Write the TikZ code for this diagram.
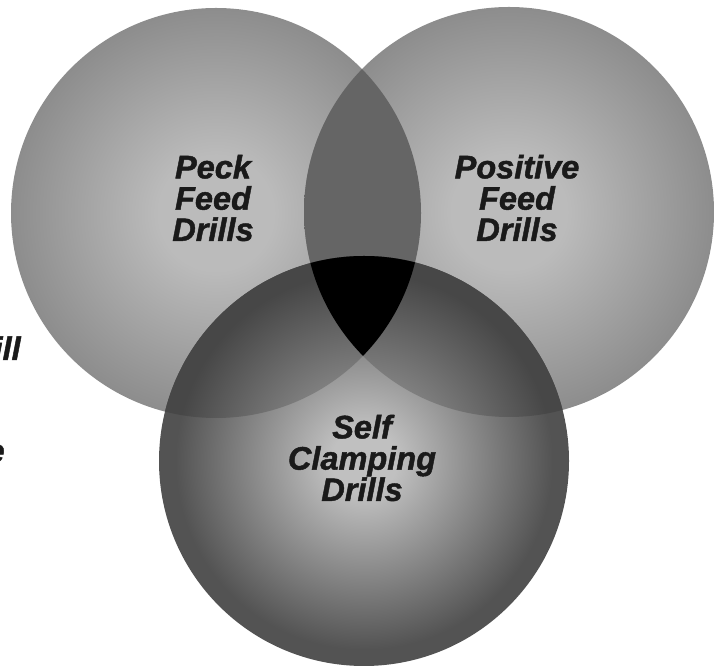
\documentclass[tikz,border=0pt]{standalone}
\usepackage{fontspec}
\setmainfont{Liberation Sans}
\newfontfamily\drillfont{Liberation Sans Bold Italic}[FakeBold=1.4]

\definecolor{topin}{HTML}{BBBBBB}
\definecolor{topout}{HTML}{858585}
\definecolor{botin}{HTML}{C0C0C0}
\definecolor{botout}{HTML}{535353}
\definecolor{ovin}{HTML}{9A9A9A}
\definecolor{ovout}{HTML}{474747}
\definecolor{lensmid}{HTML}{767676}
\definecolor{lensout}{HTML}{656565}
\definecolor{ink}{HTML}{1A1A1A}

\pgfdeclareradialshading{topglow}{\pgfpoint{0bp}{0bp}}{color(0bp)=(topin); color(7bp)=(topin); color(28bp)=(topout); color(50bp)=(topout)}
\pgfdeclareradialshading{botglow}{\pgfpoint{0bp}{0bp}}{color(0bp)=(botin); color(4bp)=(botin); color(23bp)=(botout); color(50bp)=(botout)}
\pgfdeclareradialshading{ovglow}{\pgfpoint{0bp}{0bp}}{color(0bp)=(ovin); color(4bp)=(ovin); color(23bp)=(ovout); color(50bp)=(ovout)}

\tikzset{drilltext/.style={text=ink, align=center, font=\fontsize{18.5}{17.8}\selectfont\drillfont, inner sep=0pt}}

\begin{document}
\begin{tikzpicture}[x=0.02cm, y=0.02cm]

	\def\r{205};
	\useasboundingbox (0,0) rectangle (715,665);

	%upper circles
	\foreach \cx/\cy in {216/452, 509/453}{
		\shade[shading=topglow] (\cx,\cy) circle (\r);
	}

	%lens between the upper circles
	\begin{scope}
		\clip (216,452) circle (\r);
		\clip (509,453) circle (\r);
		\shade[left color=lensout, middle color=lensmid, right color=lensout] (304,0) rectangle (421,665);
	\end{scope}

	%lower circle
	\shade[shading=botglow] (364,204) circle (\r);

	%overlaps with the lower circle
	\foreach \cx/\cy in {216/452, 509/453}{
		\begin{scope}
			\clip (\cx,\cy) circle (\r);
			\shade[shading=ovglow] (364,204) circle (\r);
		\end{scope}
	}

	%all three
	\begin{scope}
		\clip (216,452) circle (\r);
		\clip (509,453) circle (\r);
		\fill[black] (364,204) circle (\r);
	\end{scope}

	%labels
	\foreach \x/\y/\txt/\name in {213/467/{Peck\\Feed\\Drills}/peck, 517/467/{Positive\\Feed\\Drills}/positive, 362/207/{Self\\Clamping\\Drills}/self}{
		\node[drilltext] (\name) at (\x,\y) {\txt};
	}

	%cut text at the left edge
	\node[drilltext, anchor=base east] (cutill) at (21,305) {ill};
	\node[drilltext, anchor=base east] (cute) at (5,203) {e};

\end{tikzpicture}
\end{document}
